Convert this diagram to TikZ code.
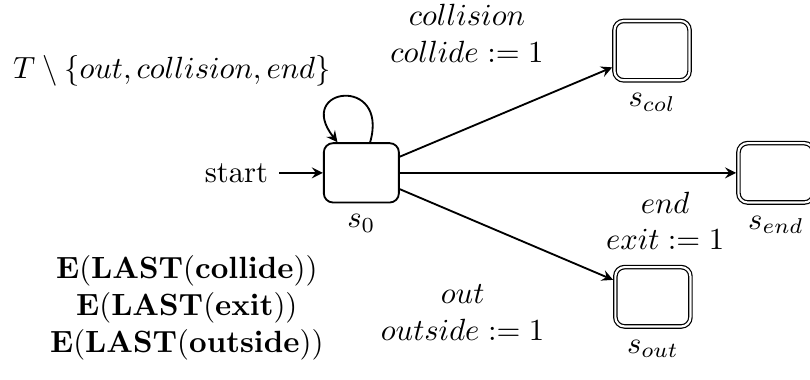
\documentclass[tikz,border=0pt]{standalone}
\usepackage{amsmath, amssymb}
\usepackage{tikz}
\usetikzlibrary{automata, positioning, arrows.meta}
\tikzset{every state/.style={rectangle, rounded corners=3pt, draw, semithick,
  minimum width=0.86cm, minimum height=0.68cm},
  accepting/.style={double, thin, double distance=0.7pt, outer sep=0.75pt}}

\begin{document}
\begin{tikzpicture}[>=stealth, semithick, initial text=start, initial distance=0.5cm]
\useasboundingbox (-4.14,-2.37) rectangle (5.14,1.98);
% states
\node[state, initial] (s0) at (0,0) {};
\node[state, accepting] (scol) at (3.33,1.40) {};
\node[state, accepting] (send) at (4.75,0) {};
\node[state, accepting] (sout) at (3.34,-1.42) {};
\node[below=0pt of s0] (n0) {$s_0$};
\node[below=0pt of scol] (ncol) {$s_{col}$};
\node[below=0pt of send] (nend) {$s_{end}$};
\node[below=0pt of sout] (nout) {$s_{out}$};
% transitions
\draw[->] (s0.74) .. controls +(74:0.8) and +(128:0.8) .. (s0.128);
\draw[->] (s0) -- (scol);
\draw[->] (s0) -- (send);
\draw[->] (s0) -- (sout);
\node (tloop) at (-2.17,1.17) {$T \setminus \{out, collision, end\}$};
\node[align=center] (tcol) at (1.21,1.60) {$collision$\\ $collide := 1$};
\node[align=center] (tend) at (3.48,-0.55) {$end$\\ $exit := 1$};
\node[align=center] (tout) at (1.16,-1.60) {$out$\\ $outside := 1$};
\node[align=center] (goals) at (-2.0,-1.55)
  {$\mathbf{E}(\mathbf{LAST}(\mathbf{collide}))$\\
   $\mathbf{E}(\mathbf{LAST}(\mathbf{exit}))$\\
   $\mathbf{E}(\mathbf{LAST}(\mathbf{outside}))$};
\end{tikzpicture}
\end{document}
